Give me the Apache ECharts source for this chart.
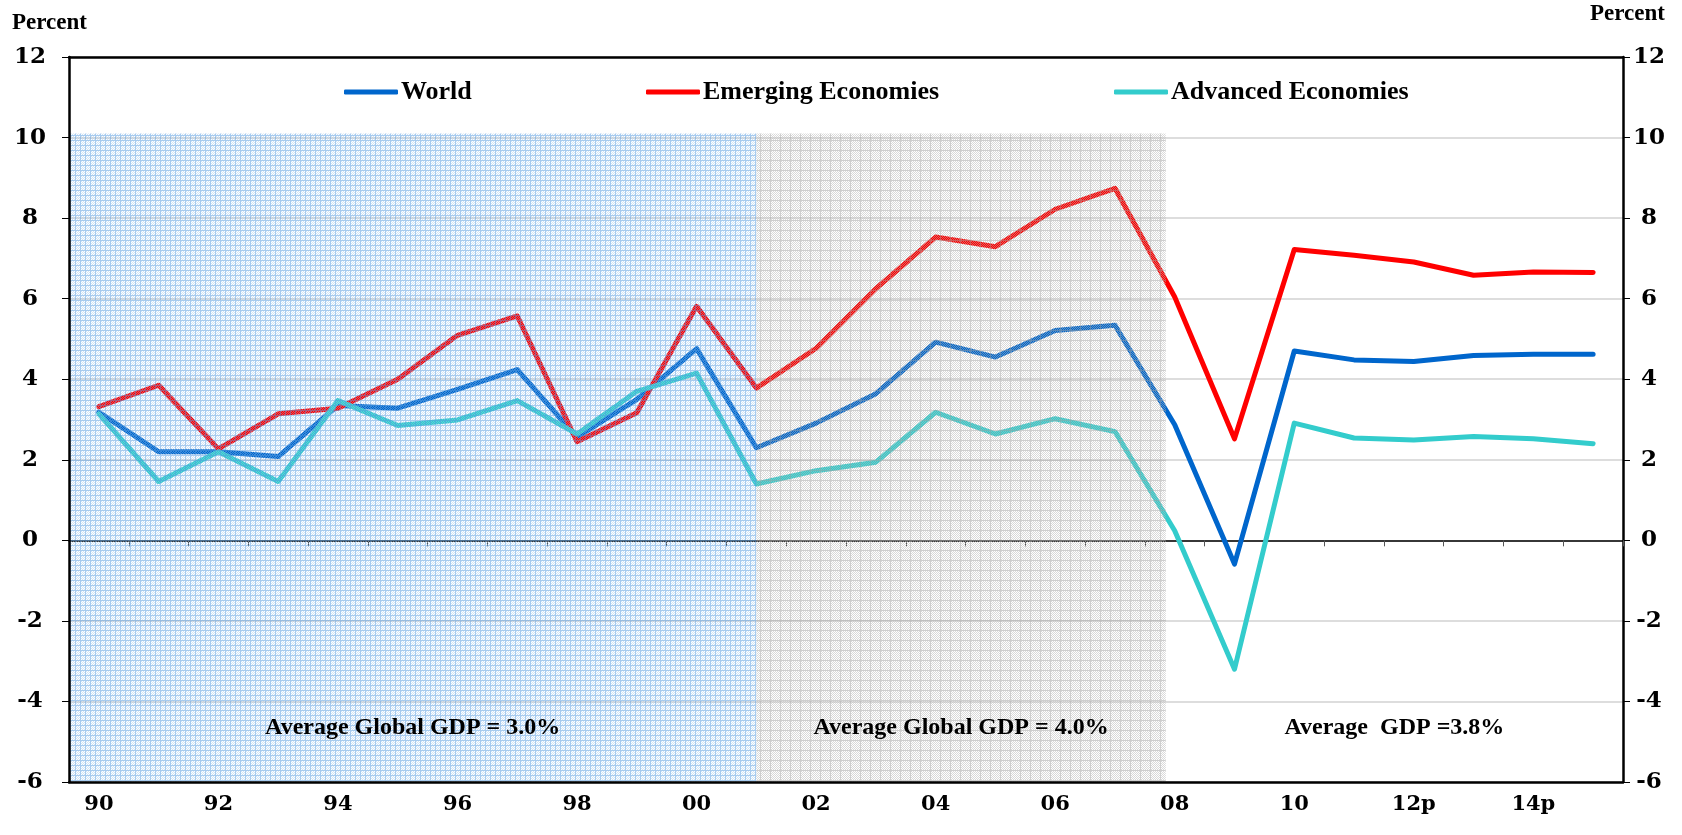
<!DOCTYPE html>
<html>
<head>
<meta charset="utf-8">
<script src="https://cdn.jsdelivr.net/npm/echarts@6/dist/echarts.min.js"></script>
<style>
  html, body { margin: 0; padding: 0; background: #fff; }
  #gdp-chart { width: 1682px; height: 835px; }
</style>
</head>
<body>
<div id="gdp-chart"></div>
<script>
// years on the x axis ('p' = projection)
var years = ['90', '91', '92', '93', '94', '95', '96', '97', '98', '99',
  '00', '01', '02', '03', '04', '05', '06', '07', '08', '09',
  '10', '11', '12p', '13p', '14p', '15p']

// real GDP growth, percent
var world = [3.18, 2.20, 2.20, 2.08, 3.35, 3.28, 3.75, 4.24, 2.56, 3.50,
  4.76, 2.30, 2.91, 3.64, 4.92, 4.55, 5.21, 5.34, 2.87, -0.59,
  4.70, 4.48, 4.44, 4.59, 4.62, 4.62]
var emerging = [3.32, 3.85, 2.27, 3.14, 3.28, 4.00, 5.09, 5.57, 2.45, 3.17,
  5.81, 3.78, 4.77, 6.25, 7.53, 7.29, 8.22, 8.74, 6.04, 2.52,
  7.22, 7.08, 6.91, 6.58, 6.66, 6.65]
var advanced = [3.14, 1.46, 2.20, 1.46, 3.47, 2.85, 2.99, 3.47, 2.64, 3.70,
  4.15, 1.40, 1.73, 1.94, 3.18, 2.64, 3.02, 2.70, 0.24, -3.20,
  2.91, 2.54, 2.49, 2.58, 2.52, 2.40]

// shaded periods (index along the year axis, 0 = 1990)
var periodStart = [-0.5, 11, 17.85]
var periodEnd = [11, 17.85, 25.5]
var periodTop = 10.1
var periodLabels = ['Average Global GDP = 3.0%', 'Average Global GDP = 4.0%', 'Average  GDP =3.8%']

var yTicks = { min: -6, max: 12, interval: 2 }

var serif = '"Liberation Serif", "Times New Roman", serif'
var digits = '"DejaVu Serif", "Liberation Serif", serif'

// small tiled patterns like the excel fills
function makePattern(size, lineColor, dotColor) {
  var c = document.createElement('canvas')
  c.width = size
  c.height = size
  var ctx = c.getContext('2d')
  for (var x = 0; x < size; x++) {
    for (var y = 0; y < size; y++) {
      if (x === 0 || y === 0) {
        ctx.fillStyle = lineColor
        ctx.fillRect(x, y, 1, 1)
      } else if ((x + y) % 2 === 0) {
        ctx.fillStyle = dotColor
        ctx.fillRect(x, y, 1, 1)
      }
    }
  }
  return { image: c, repeat: 'repeat' }
}

var bluePattern = makePattern(5, 'rgba(95,160,225,0.55)', 'rgba(150,195,238,0.45)')
var grayPattern = makePattern(10, 'rgba(165,165,165,0.55)', 'rgba(185,185,185,0.55)')
var periodFills = [bluePattern, grayPattern, 'rgba(255,255,255,0)']

var areas = periodStart.map(function (s, i) {
  return [{
    name: periodLabels[i],
    xAxis: s,
    yAxis: i < 2 ? periodTop : yTicks.min,
    itemStyle: { color: periodFills[i] }
  }, {
    xAxis: periodEnd[i],
    yAxis: yTicks.min
  }]
})

var chart = echarts.init(document.getElementById('gdp-chart'))

function lineSeries(name, data, color) {
  return {
    name: name,
    type: 'line',
    data: data,
    xAxisIndex: 0,
    yAxisIndex: 1,
    symbol: 'none',
    z: 2,
    lineStyle: { color: color, width: 5, cap: 'round', join: 'round' },
    itemStyle: { color: color }
  }
}

function legendAt(name, left) {
  return {
    data: [name],
    left: left,
    top: 74,
    icon: 'roundRect',
    itemWidth: 54,
    itemHeight: 5,
    itemGap: 0,
    textStyle: { fontFamily: serif, fontWeight: 'bold', fontSize: 26, color: '#000', padding: [0, 0, 0, -2] }
  }
}

var yLabel = { fontFamily: digits, fontWeight: 'bold', fontSize: 23, color: '#000', align: 'center' }

var option = {
  animation: false,
  backgroundColor: '#fff',
  grid: {
    left: 69,
    right: 59,
    top: 57,
    bottom: 53,
    show: false
  },
  legend: [
    legendAt('World', 339),
    legendAt('Emerging Economies', 641),
    legendAt('Advanced Economies', 1109)
  ],
  graphic: [
    { type: 'text', left: 12, top: 12, style: { text: 'Percent', font: 'bold 23px ' + serif, fill: '#000' } },
    { type: 'text', left: 1590, top: 3, style: { text: 'Percent', font: 'bold 23px ' + serif, fill: '#000' } }
  ],
  xAxis: [{
    type: 'category',
    data: years,
    position: 'bottom',
    z: 10,
    axisLine: { onZero: false, lineStyle: { color: '#000', width: 2.5 } },
    axisTick: { show: false },
    axisLabel: { interval: 1, margin: 12, fontFamily: digits, fontWeight: 'bold', fontSize: 21, color: '#000' },
    splitLine: { show: false }
  }, {
    type: 'value',
    min: -0.5,
    max: 25.5,
    show: false
  }, {
    type: 'category',
    data: years,
    position: 'bottom',
    axisLine: { onZero: true, lineStyle: { color: '#000', width: 1.5 } },
    axisTick: { show: true, interval: 0, length: 6, lineStyle: { color: '#555', width: 1 } },
    axisLabel: { show: false },
    splitLine: { show: false }
  }, {
    // top frame line
    type: 'category',
    data: years,
    position: 'top',
    z: 10,
    axisLine: { onZero: false, lineStyle: { color: '#000', width: 2.5 } },
    axisTick: { show: false },
    axisLabel: { show: false },
    splitLine: { show: false }
  }],
  yAxis: [{
    type: 'value',
    position: 'left',
    min: yTicks.min,
    max: yTicks.max,
    interval: yTicks.interval,
    z: 10,
    axisLine: { show: true, onZero: false, lineStyle: { color: '#000', width: 2.5 } },
    axisTick: { show: true, length: 7, lineStyle: { color: '#000' } },
    axisLabel: Object.assign({ margin: 39 }, yLabel),
    splitLine: { show: false }
  }, {
    type: 'value',
    position: 'right',
    min: yTicks.min,
    max: yTicks.max,
    interval: yTicks.interval,
    axisLine: { show: true, onZero: false, lineStyle: { color: '#000', width: 2.5 } },
    axisTick: { show: true, length: 7, lineStyle: { color: '#000' } },
    axisLabel: Object.assign({ margin: 26 }, yLabel),
    splitLine: { show: true, lineStyle: { color: '#d2d2d2', width: 1.5 } }
  }],
  series: [
    lineSeries('World', world, '#0066cc'),
    lineSeries('Emerging Economies', emerging, '#ff0000'),
    lineSeries('Advanced Economies', advanced, '#33cccc'),
    {
      name: 'periods',
      type: 'line',
      xAxisIndex: 1,
      yAxisIndex: 1,
      data: [],
      z: 3,
      markArea: {
        z: 5,
        silent: true,
        label: {
          show: true,
          position: 'insideBottom',
          distance: 42,
          fontFamily: serif,
          fontWeight: 'bold',
          fontSize: 24,
          color: '#000'
        },
        data: areas
      }
    }
  ]
}

chart.setOption(option)
window.addEventListener('resize', function () {
  chart.resize()
})
</script>
</body>
</html>
